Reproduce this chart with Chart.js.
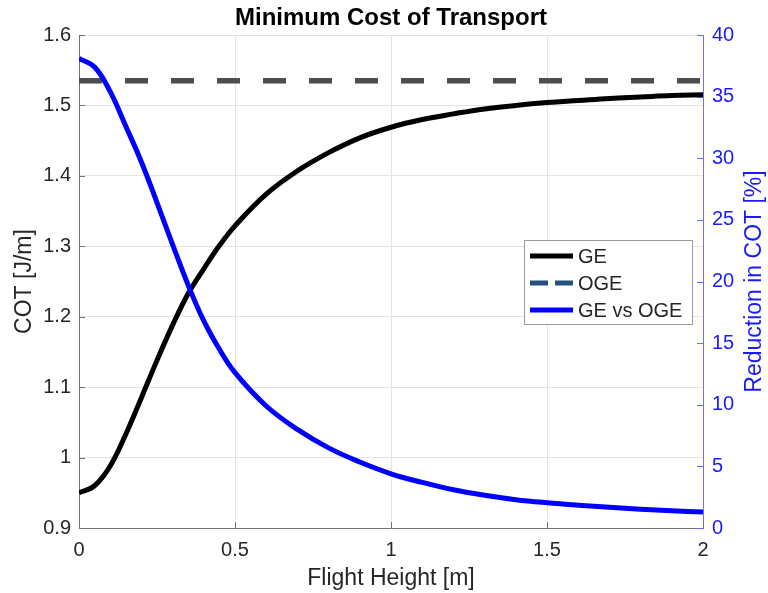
<!DOCTYPE html>
<html>
<head>
<meta charset="utf-8">
<script src="https://cdn.jsdelivr.net/npm/chart.js@4.4.1/dist/chart.umd.min.js"></script>
<style>
  html, body { margin: 0; padding: 0; background: #ffffff; }
  canvas { display: block; }
</style>
</head>
<body>
<canvas id="cot" width="768" height="593"></canvas>
<script>
// Flight height above ground [m]
const heights = [0, 0.05, 0.1, 0.15, 0.2, 0.25, 0.3, 0.35, 0.4, 0.45, 0.5,
                 0.6, 0.7, 0.8, 0.9, 1.0, 1.1, 1.2, 1.3, 1.4, 1.5, 1.6, 1.7, 1.8, 1.9, 2.0];

// Minimum cost of transport in ground effect [J/m]
const cotGE = [0.950, 0.960, 0.988, 1.033, 1.085, 1.138, 1.188, 1.233, 1.268, 1.301, 1.329,
               1.374, 1.407, 1.433, 1.454, 1.469, 1.480, 1.488, 1.495, 1.500, 1.504, 1.507, 1.510, 1.512, 1.514, 1.515];

// Minimum cost of transport out of ground effect [J/m]
const ogeHeights = [0, 2];
const cotOGE = [1.535, 1.535];

// Reduction of COT in ground effect relative to OGE [%]
const reduction = [38.1, 37.4, 35.4, 32.6, 29.7, 26.4, 23.0, 19.7, 16.8, 14.5, 12.6,
                   9.9, 8.0, 6.5, 5.35, 4.4, 3.7, 3.1, 2.65, 2.3, 2.05, 1.85, 1.68, 1.52, 1.4, 1.3];

// Tick values
const heightTicks = [0, 0.5, 1, 1.5, 2];
const cotTicks = [0.9, 1, 1.1, 1.2, 1.3, 1.4, 1.5, 1.6];
const reductionTicks = [0, 5, 10, 15, 20, 25, 30, 35, 40];

// Text
const titleText = 'Minimum Cost of Transport';
const xTitle = 'Flight Height [m]';
const yTitle = 'COT [J/m]';
const y1Title = 'Reduction in COT [%]';
const seriesNames = ['GE', 'OGE', 'GE vs OGE'];

const FONT = "'Liberation Sans', Arial, Helvetica, sans-serif";
const TEXT = '#262626';
const BLUE = '#0000ff';
const BLUE_TEXT = '#1a1aff';
const AXIS = '#737373';
const GRID = '#e4e4e4';

// Legend swatches (OGE swatch is drawn in its own dark blue)
const legendStyle = [
  { color: '#000000', dash: [] },
  { color: '#24507d', dash: [18, 7] },
  { color: BLUE, dash: [] }
];

const toPoints = (xs, ys) => xs.map((x, i) => ({ x: x, y: ys[i] }));

const decorations = {
  id: 'decorations',
  beforeDatasetsDraw(chart) {
    const { ctx, chartArea: a, scales } = chart;
    ctx.save();
    ctx.lineWidth = 1;
    // inward tick marks, left and bottom
    ctx.strokeStyle = AXIS;
    ctx.beginPath();
    cotTicks.forEach(v => {
      const y = Math.round(scales.y.getPixelForValue(v)) + 0.5;
      ctx.moveTo(a.left, y); ctx.lineTo(a.left + 6, y);
    });
    heightTicks.forEach(v => {
      const x = Math.round(scales.x.getPixelForValue(v)) + 0.5;
      ctx.moveTo(x, a.bottom); ctx.lineTo(x, a.bottom - 6);
    });
    ctx.stroke();
    // inward tick marks, right
    ctx.strokeStyle = '#6a6aff';
    ctx.beginPath();
    reductionTicks.forEach(v => {
      const y = Math.round(scales.y1.getPixelForValue(v)) + 0.5;
      ctx.moveTo(a.right, y); ctx.lineTo(a.right - 6, y);
    });
    ctx.stroke();
    ctx.restore();
  },
  afterDraw(chart) {
    const { ctx, chartArea: a } = chart;
    ctx.save();
    // right axis title, reading bottom to top
    ctx.translate(755, (a.top + a.bottom) / 2);
    ctx.rotate(-Math.PI / 2);
    ctx.font = '23px ' + FONT;
    ctx.fillStyle = BLUE_TEXT;
    ctx.textAlign = 'center';
    ctx.textBaseline = 'middle';
    ctx.fillText(y1Title, 0, 0);
    ctx.restore();

    // legend box
    const bx = 524.5, by = 240.5, bw = 168, bh = 84;
    ctx.save();
    ctx.fillStyle = '#ffffff';
    ctx.fillRect(bx, by, bw, bh);
    ctx.strokeStyle = '#9a9a9a';
    ctx.lineWidth = 1;
    ctx.strokeRect(bx, by, bw, bh);
    ctx.font = '20px ' + FONT;
    ctx.textBaseline = 'middle';
    ctx.textAlign = 'left';
    chart.data.datasets.forEach((ds, i) => {
      const y = 256 + i * 27;
      ctx.beginPath();
      ctx.strokeStyle = legendStyle[i].color;
      ctx.lineWidth = 5;
      ctx.lineCap = 'butt';
      ctx.setLineDash(legendStyle[i].dash);
      ctx.moveTo(530, y); ctx.lineTo(573, y);
      ctx.stroke();
      ctx.setLineDash([]);
      ctx.fillStyle = TEXT;
      ctx.fillText(ds.label, 578, y + 1);
    });
    ctx.restore();
  }
};

new Chart(document.getElementById('cot'), {
  type: 'line',
  data: {
    datasets: [
      {
        label: seriesNames[0],
        data: toPoints(heights, cotGE),
        yAxisID: 'y',
        borderColor: '#000000',
        borderWidth: 5,
        pointRadius: 0,
        tension: 0.4,
        order: 3
      },
      {
        label: seriesNames[1],
        data: toPoints(ogeHeights, cotOGE),
        yAxisID: 'y',
        borderColor: '#4d4d4d',
        borderWidth: 5.5,
        borderDash: [23, 23],
        borderCapStyle: 'butt',
        pointRadius: 0,
        order: 2
      },
      {
        label: seriesNames[2],
        data: toPoints(heights, reduction),
        yAxisID: 'y1',
        borderColor: BLUE,
        borderWidth: 5,
        pointRadius: 0,
        tension: 0.4,
        order: 1
      }
    ]
  },
  options: {
    responsive: false,
    animation: false,
    devicePixelRatio: 1,
    layout: { padding: 0 },
    plugins: {
      legend: { display: false },
      tooltip: { enabled: false },
      title: {
        display: true,
        text: titleText,
        fullSize: false,
        color: '#000000',
        font: { family: FONT, size: 24, weight: 'bold' },
        padding: { top: 4, bottom: 2.2 }
      }
    },
    scales: {
      x: {
        type: 'linear',
        min: 0, max: 2,
        afterFit: s => { s.height = 65; },
        afterBuildTicks: s => { s.ticks = heightTicks.map(v => ({ value: v })); },
        ticks: { color: TEXT, font: { family: FONT, size: 20 }, padding: 10, callback: v => String(v), maxRotation: 0 },
        grid: { color: GRID, drawTicks: false },
        border: { color: AXIS, width: 1 },
        title: { display: true, text: xTitle, color: TEXT, font: { family: FONT, size: 23 }, padding: { top: 0, bottom: 1 } }
      },
      y: {
        type: 'linear',
        position: 'left',
        min: 0.9, max: 1.6,
        afterFit: s => { s.width = 79; },
        afterBuildTicks: s => { s.ticks = cotTicks.map(v => ({ value: v })); },
        ticks: { color: TEXT, font: { family: FONT, size: 20 }, padding: 8, callback: v => String(v) },
        grid: { color: GRID, drawTicks: false },
        border: { color: AXIS, width: 1 },
        title: { display: true, text: yTitle, color: TEXT, font: { family: FONT, size: 23 }, padding: { top: 11, bottom: 0 } }
      },
      y1: {
        type: 'linear',
        position: 'right',
        min: 0, max: 40,
        afterFit: s => { s.width = 65; },
        afterBuildTicks: s => { s.ticks = reductionTicks.map(v => ({ value: v })); },
        ticks: { color: BLUE_TEXT, font: { family: FONT, size: 20 }, padding: 9, callback: v => String(v) },
        grid: { display: false, drawTicks: false },
        border: { color: '#7070ff', width: 1 },
        title: { display: false }
      }
    }
  },
  plugins: [decorations]
});
</script>
</body>
</html>
